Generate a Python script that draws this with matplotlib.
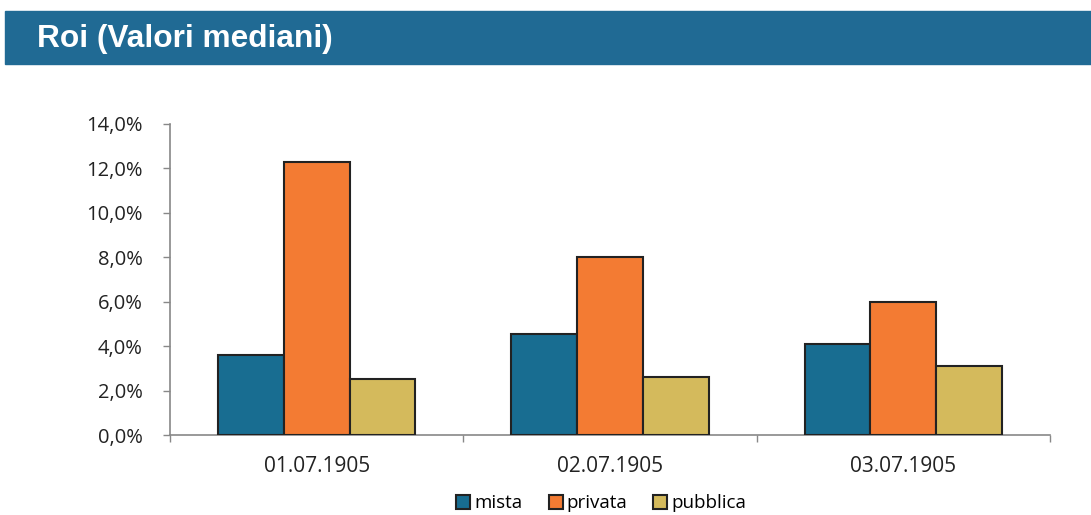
import numpy as np
import matplotlib.pyplot as plt
from matplotlib.patches import Rectangle
from matplotlib.ticker import FuncFormatter, FixedLocator

categories = ['01.07.1905', '02.07.1905', '03.07.1905']
series = ['mista', 'privata', 'pubblica']
mista = [3.6, 4.55, 4.1]
privata = [12.3, 8.0, 6.0]
pubblica = [2.5, 2.6, 3.1]
colors = ['#186d91', '#f37b33', '#d4ba5c']

plt.rcParams['font.family'] = ['Open Sans', 'DejaVu Sans']

fig = plt.figure(figsize=(10.91, 5.15), dpi=100)

# title bar
fig.patches.append(Rectangle((5/1091, 1-64/515), 1086/1091, 53/515,
                             transform=fig.transFigure, color='#206a94', zorder=0))
fig.text(37/1091, 1-39/515, 'Roi (Valori mediani)', color='white', fontsize=22.8,
         fontweight='bold', family='Liberation Sans', va='center', ha='left')

ax = fig.add_axes([170/1091, 1-435/515, 880/1091, 311/515])
x = np.arange(len(categories))
w = 0.224
for i, (vals, name) in enumerate(zip([mista, privata, pubblica], series)):
    ax.bar(x + (i-1)*w, vals, w, color=colors[i], edgecolor='#222222',
           linewidth=1.5, label=name, zorder=3)

ax.set_xlim(-0.5, 2.5)
ax.set_ylim(0, 14)
ax.set_yticks(np.arange(0, 15, 2))
ax.yaxis.set_major_formatter(FuncFormatter(lambda v, p: f'{v:.1f}%'.replace('.', ',')))
ax.set_xticks(x)
ax.set_xticklabels(categories)
ax.xaxis.set_minor_locator(FixedLocator([-0.5, 0.5, 1.5, 2.5]))
ax.tick_params(axis='x', which='major', length=0, pad=15, labelsize=15, labelcolor='#222222')
ax.tick_params(axis='x', which='minor', length=5, color='#888888', width=1)
ax.tick_params(axis='y', length=5, color='#888888', width=1, labelsize=14.5,
               labelcolor='#222222', pad=14.5)
for s in ['top', 'right']:
    ax.spines[s].set_visible(False)
for s in ['left', 'bottom']:
    ax.spines[s].set_color('#888888')
    ax.spines[s].set_linewidth(1.2)

ax.legend(loc='center', bbox_to_anchor=(0.49, -0.22), ncol=3, frameon=False,
          fontsize=13.5, handlelength=0.75, handleheight=0.75, handletextpad=0.2,
          columnspacing=1.4)

fig.savefig('out.png', dpi=100)
